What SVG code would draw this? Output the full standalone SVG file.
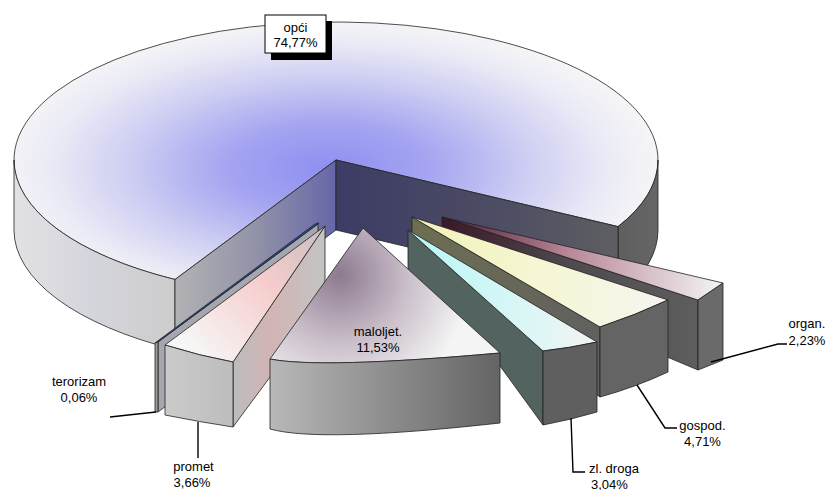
<svg xmlns="http://www.w3.org/2000/svg" width="830" height="490" viewBox="0 0 830 490">
<style>
.f{stroke:#222;stroke-width:0.8;stroke-linejoin:round}
.lbl{font-family:"Liberation Sans",Arial,sans-serif;font-size:13px;fill:#000}
.ld{fill:none;stroke:#000;stroke-width:1.4}
</style>
<defs>
<radialGradient id="gMain" gradientUnits="userSpaceOnUse" cx="328" cy="168" r="330" gradientTransform="translate(328 168) scale(1 0.45) translate(-328 -168)">
<stop offset="0" stop-color="#8f8ff2"/><stop offset="0.3" stop-color="#a4a4f1"/><stop offset="0.6" stop-color="#cdcdf3"/><stop offset="0.85" stop-color="#ebebf6"/><stop offset="1" stop-color="#f5f5f7"/>
</radialGradient>
<linearGradient id="gLSide" x1="14" y1="0" x2="175" y2="0" gradientUnits="userSpaceOnUse">
<stop offset="0" stop-color="#e2e2e4"/><stop offset="0.5" stop-color="#d4d4dc"/><stop offset="1" stop-color="#cdcdcd"/>
</linearGradient>
<linearGradient id="gRSide" x1="618" y1="0" x2="658" y2="0" gradientUnits="userSpaceOnUse">
<stop offset="0" stop-color="#5e5e5e"/><stop offset="1" stop-color="#666"/>
</linearGradient>
<linearGradient id="gLCut" x1="175" y1="0" x2="336" y2="0" gradientUnits="userSpaceOnUse">
<stop offset="0" stop-color="#b2b2b4"/><stop offset="0.5" stop-color="#9292a8"/><stop offset="1" stop-color="#6666a8"/>
</linearGradient>
<linearGradient id="gRCut" x1="336" y1="0" x2="618" y2="0" gradientUnits="userSpaceOnUse">
<stop offset="0" stop-color="#3c3c66"/><stop offset="0.5" stop-color="#4a4a64"/><stop offset="1" stop-color="#5e5e62"/>
</linearGradient>
<linearGradient id="gOrgTop" x1="442" y1="0" x2="723" y2="0" gradientUnits="userSpaceOnUse">
<stop offset="0" stop-color="#4a1830"/><stop offset="0.45" stop-color="#b88898"/><stop offset="1" stop-color="#f4f4f4"/>
</linearGradient>
<linearGradient id="gOrgCut" x1="442" y1="0" x2="698" y2="0" gradientUnits="userSpaceOnUse">
<stop offset="0" stop-color="#3a1828"/><stop offset="0.5" stop-color="#4e4a4e"/><stop offset="1" stop-color="#5e5e5e"/>
</linearGradient>
<linearGradient id="gGosTop" x1="412" y1="0" x2="668" y2="0" gradientUnits="userSpaceOnUse">
<stop offset="0" stop-color="#f2f2b8"/><stop offset="0.5" stop-color="#f6f6d4"/><stop offset="1" stop-color="#f5f5f0"/>
</linearGradient>
<linearGradient id="gGosCut" x1="412" y1="0" x2="600" y2="0" gradientUnits="userSpaceOnUse">
<stop offset="0" stop-color="#6e6e52"/><stop offset="1" stop-color="#606060"/>
</linearGradient>
<linearGradient id="gDroTop" x1="408" y1="0" x2="597" y2="0" gradientUnits="userSpaceOnUse">
<stop offset="0" stop-color="#b8f6f6"/><stop offset="0.5" stop-color="#d4f6f6"/><stop offset="1" stop-color="#f2f4f4"/>
</linearGradient>
<linearGradient id="gProTop" x1="325" y1="226" x2="200" y2="356" gradientUnits="userSpaceOnUse">
<stop offset="0" stop-color="#c8c0c0"/><stop offset="0.45" stop-color="#f6cccc"/><stop offset="1" stop-color="#f6f6f6"/>
</linearGradient>
<linearGradient id="gProCut" x1="233" y1="0" x2="325" y2="0" gradientUnits="userSpaceOnUse">
<stop offset="0" stop-color="#bcbcbc"/><stop offset="0.4" stop-color="#d2b4b4"/><stop offset="1" stop-color="#c4c4c4"/>
</linearGradient>
<linearGradient id="gProFront" x1="165" y1="0" x2="233" y2="0" gradientUnits="userSpaceOnUse">
<stop offset="0" stop-color="#cbcbcb"/><stop offset="1" stop-color="#bdbdbd"/>
</linearGradient>
<radialGradient id="gMalTop" gradientUnits="userSpaceOnUse" cx="340" cy="275" r="130">
<stop offset="0" stop-color="#8c7a8e"/><stop offset="0.5" stop-color="#c8bcc8"/><stop offset="1" stop-color="#f4f4f4"/>
</radialGradient>
<linearGradient id="gMalFront" x1="270" y1="0" x2="500" y2="0" gradientUnits="userSpaceOnUse">
<stop offset="0" stop-color="#b8b8b8"/><stop offset="1" stop-color="#646464"/>
</linearGradient>
</defs>

<g id="node-opci">
<path class="f" fill="url(#gMain)" d="M336,160 L175,279.5 A322,138 0 1 1 618,226.6 Z"/>
<path class="f" fill="url(#gLSide)" d="M175,279.5 A322,138 0 0 1 14,160 L14,230 A322,138 0 0 0 175,349.5 Z"/>
<path class="f" fill="url(#gRSide)" d="M618,226.6 A322,138 0 0 0 658,160 L658,230 A322,138 0 0 1 618,296.6 Z"/>
<path class="f" fill="url(#gLCut)" d="M175,279.5 L336,160 L336,230 L175,349.5 Z"/>
<path class="f" fill="url(#gRCut)" d="M336,160 L618,226.6 L618,296.6 L336,230 Z"/>
</g>

<g id="node-organ">
<path class="f" fill="url(#gOrgCut)" d="M442,217 L698,300 L698,370 L442,262 Z"/>
<path class="f" fill="url(#gOrgTop)" d="M442,217 L723,283 L698,300 Z"/>
<path class="f" fill="#6a6a6a" d="M698,300 L723,283 L723,360 L698,370 Z"/>
</g>

<g id="node-gospod">
<path class="f" fill="url(#gGosCut)" d="M412,217 L600,327 L600,397 L412,265 Z"/>
<path class="f" fill="url(#gGosTop)" d="M412,217 L668,300 Q636,315 600,327 Z"/>
<path class="f" fill="#646464" d="M600,327 Q636,315 668,300 L668,372 Q636,387 600,397 Z"/>
</g>

<g id="node-zldroga">
<path class="f" fill="#53635f" d="M408,230 L543,351 L543,425 L500,366 L408,275 Z"/>
<path class="f" fill="url(#gDroTop)" d="M408,230 L597,342 Q570,348 543,351 Z"/>
<path class="f" fill="#5f5f5f" d="M543,351 Q570,348 597,342 L597,412 Q570,420 543,425 Z"/>
</g>

<g id="node-terorizam">
<path class="f" fill="#a6a6ae" d="M318,224 L158,342 L158,412 L318,292 Z"/>
<path class="f" fill="#2356a0" d="M315,224 L319,223 L158,342 L155,343 Z"/>
<path class="f" fill="#9c9c9c" d="M155,343 L158,342 L158,412 L155,412 Z"/>
</g>

<g id="node-promet">
<path class="f" fill="url(#gProCut)" d="M325,226 L233,362 L233,427 L270,377 L325,282 Z"/>
<path class="f" fill="url(#gProTop)" d="M325,226 L165,345 Q200,356 233,362 Z"/>
<path class="f" fill="url(#gProFront)" d="M165,345 Q200,356 233,362 L233,427 Q200,422 165,415 Z"/>
</g>

<g id="node-maloljet">
<path class="f" fill="url(#gMalTop)" d="M363,228 L270,359 Q320,369 500,353 Z"/>
<path class="f" fill="url(#gMalFront)" d="M270,359 Q320,369 500,353 L500,423 Q320,443 270,429 Z"/>
</g>

<g id="connectors">
<path class="ld" d="M156,412 L110,417"/>
<path class="ld" d="M198,422 L198,458"/>
<path class="ld" d="M571,418 L573,472 L585,472"/>
<path class="ld" d="M637,385 L665,428 L677,428"/>
<path class="ld" d="M711,362 L778,344 L787,344"/>
</g>

<g id="labels">
<g id="label-opci">
<rect x="271" y="21" width="61" height="39" fill="#000"/>
<rect x="265" y="15" width="61" height="38" fill="#fff" stroke="#000" stroke-width="1"/>
<text class="lbl" x="295.5" y="31.5" text-anchor="middle">opći</text>
<text class="lbl" x="295.5" y="46.5" text-anchor="middle">74,77%</text>
</g>
<text class="lbl" x="378" y="336" text-anchor="middle">maloljet.</text>
<text class="lbl" x="378" y="352" text-anchor="middle">11,53%</text>
<text class="lbl" x="79" y="386" text-anchor="middle">terorizam</text>
<text class="lbl" x="79" y="402" text-anchor="middle">0,06%</text>
<text class="lbl" x="193.5" y="470.5" text-anchor="middle">promet</text>
<text class="lbl" x="192" y="487" text-anchor="middle">3,66%</text>
<text class="lbl" x="589" y="472.5">zl. droga</text>
<text class="lbl" x="591" y="488.5">3,04%</text>
<text class="lbl" x="702.5" y="430" text-anchor="middle">gospod.</text>
<text class="lbl" x="702.5" y="446" text-anchor="middle">4,71%</text>
<text class="lbl" x="807" y="328" text-anchor="middle">organ.</text>
<text class="lbl" x="807" y="345" text-anchor="middle">2,23%</text>
</g>
</svg>
